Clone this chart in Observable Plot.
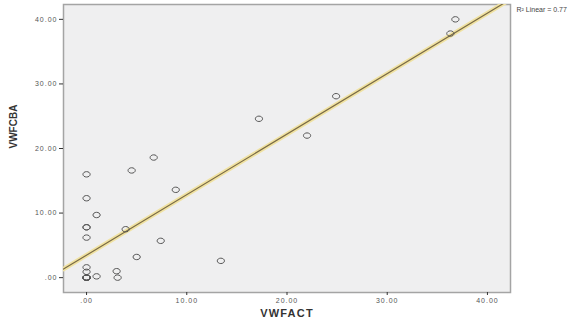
<!DOCTYPE html>
<html>
<head>
<meta charset="utf-8">
<script src="https://cdn.jsdelivr.net/npm/d3@7"></script>
<script src="https://cdn.jsdelivr.net/npm/@observablehq/plot@0.6"></script>
<style>
  html, body { margin: 0; padding: 0; background: #fff; }
  svg { display: block; }
</style>
</head>
<body>
<div id="chart"></div>
<script>
// Data (VWFACT on x, VWFCBA on y)
const vwfact = [0, 0, 0, 0, 0, 0, 0, 0, 0, 0, 0, 0, 0, 1, 1, 3, 3.1, 3.9, 5, 7.4, 4.5, 8.9, 6.7, 13.4, 17.2, 22, 24.9, 36.3, 36.8];
const vwfcba = [16, 12.3, 7.8, 7.8, 6.2, 1.6, 0.9, 0, 0, 0, 0, 0, 0, 9.7, 0.2, 1, 0, 7.5, 3.2, 5.7, 16.6, 13.6, 18.6, 2.6, 24.6, 22, 28.1, 37.8, 40];
const tickValues = [0, 10, 20, 30, 40];
const tickLabels = [".00", "10.00", "20.00", "30.00", "40.00"];
const axisDomain = [-2.3, 42.3];
const fitLabel = "R\u00B2 Linear = 0.77";
const xTitle = "VWFACT";
const yTitle = "VWFCBA";

const points = vwfact.map((x, i) => ({x, y: vwfcba[i]}));

// least-squares fit computed from the data
const mx = d3.mean(points, d => d.x), my = d3.mean(points, d => d.y);
const sxy = d3.sum(points, d => (d.x - mx) * (d.y - my));
const sxx = d3.sum(points, d => (d.x - mx) ** 2);
const slope = sxy / sxx, intercept = my - slope * mx;
const fitLine = axisDomain.map(x => ({x, y: intercept + slope * x}));

const fmt = d => tickLabels[tickValues.indexOf(d)];

// slightly wide open-ellipse symbol, like the SPSS markers
const ellipse = {
  draw(ctx, size) {
    const r = Math.sqrt(size / Math.PI);
    const rx = r * 1.2, ry = r * 0.9, k = 0.5523;
    ctx.moveTo(rx, 0);
    ctx.bezierCurveTo(rx, ry * k, rx * k, ry, 0, ry);
    ctx.bezierCurveTo(-rx * k, ry, -rx, ry * k, -rx, 0);
    ctx.bezierCurveTo(-rx, -ry * k, -rx * k, -ry, 0, -ry);
    ctx.bezierCurveTo(rx * k, -ry, rx, -ry * k, rx, 0);
    ctx.closePath();
  }
};

const chart = Plot.plot({
  width: 587,
  height: 325,
  marginLeft: 63,
  marginTop: 4,
  marginRight: 77,
  marginBottom: 33,
  style: {fontFamily: "Liberation Sans, Arial, sans-serif", background: "#fff"},
  x: {domain: axisDomain, label: null},
  y: {domain: axisDomain, label: null},
  marks: [
    Plot.frame({fill: "#efeff0", stroke: "#a4a4a4", strokeWidth: 1.5}),
    Plot.line(fitLine, {x: "x", y: "y", stroke: "#f0e2a2", strokeWidth: 4.5, clip: true}),
    Plot.line(fitLine, {x: "x", y: "y", stroke: "#7a6b45", strokeWidth: 1.2, clip: true}),
    Plot.dot(points, {x: "x", y: "y", r: 3, symbol: ellipse, stroke: "#555", strokeWidth: 1, fill: "none"}),
    Plot.axisX({ticks: tickValues, tickFormat: fmt, tickSize: 3, tickPadding: 3, fontSize: 7, fill: "#555", stroke: "#333", label: null}),
    Plot.axisY({ticks: tickValues, tickFormat: fmt, tickSize: 4, tickPadding: 2, fontSize: 7, fill: "#555", stroke: "#333", label: null}),
    Plot.text([fitLabel], {frameAnchor: "top-right", dx: 6, dy: 3, textAnchor: "start", fontSize: 7, fill: "#444"}),
    Plot.text([xTitle], {frameAnchor: "bottom", dy: 24, fontSize: 11, fontWeight: "bold", fill: "#333"}),
    Plot.text([yTitle], {frameAnchor: "left", dx: -50, rotate: -90, fontSize: 10, fontWeight: "bold", fill: "#333"})
  ]
});
chart.querySelectorAll("text").forEach(t => {
  const s = t.textContent;
  if (s === xTitle) t.setAttribute("letter-spacing", "1.2");
  else if (/\d/.test(s) && s.length <= 5) t.setAttribute("letter-spacing", "1");
});
document.getElementById("chart").append(chart);
</script>
</body>
</html>
